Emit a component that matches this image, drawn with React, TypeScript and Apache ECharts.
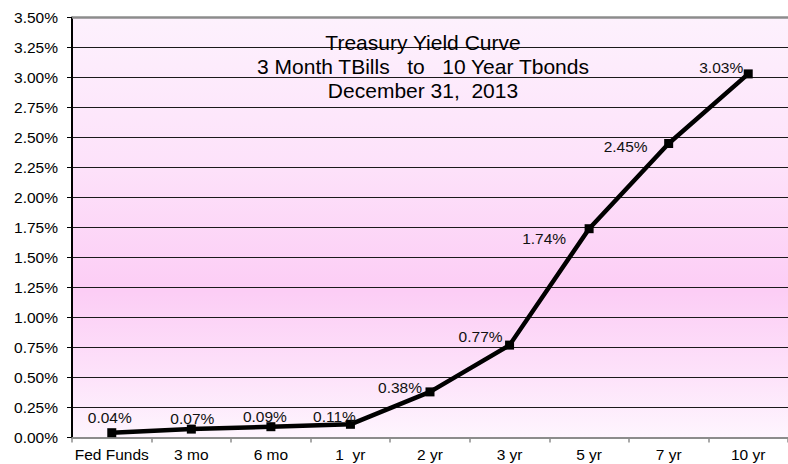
import React, { useEffect, useRef } from "react";
import * as echarts from "echarts";

const categories = ["Fed Funds", "3 mo", "6 mo", "1  yr", "2 yr", "3 yr", "5 yr", "7 yr", "10 yr"];
const yields = [0.04, 0.07, 0.09, 0.11, 0.38, 0.77, 1.74, 2.45, 3.03];
const labelOffsets: [number, number][] = [
  [-2, -15], [1, -11], [-6, -10], [-16, -8], [-30, -4], [-29, -9], [-45, 10], [-43, 3], [-27, -6],
];
const titleLines = ["Treasury Yield Curve", "3 Month TBills   to   10 Year Tbonds", "December 31,  2013"];
const yMin = 0;
const yMax = 3.5;
const yStep = 0.25;

const FONT = 'Arial, "Liberation Sans", Helvetica, sans-serif';

export default function App() {
  const ref = useRef<HTMLDivElement>(null);
  useEffect(() => {
    if (!ref.current) return;
    const chart = echarts.init(ref.current, undefined, { renderer: "svg" });
    chart.setOption({
      animation: false,
      backgroundColor: "#ffffff",
      title: {
        text: titleLines.join("\n"),
        left: 418,
        top: 25,
        textAlign: "center",
        textStyle: {
          fontFamily: FONT,
          fontSize: 21,
          fontWeight: "normal",
          color: "#000",
          lineHeight: 24,
        },
      },
      grid: {
        left: 72,
        top: 17.5,
        width: 726,
        height: 420,
        show: true,
        borderWidth: 0,
        backgroundColor: {
          type: "linear",
          x: 0,
          y: 0,
          x2: 0,
          y2: 1,
          colorStops: [
            { offset: 0, color: "#fdf1fd" },
            { offset: 0.35, color: "#fde2fa" },
            { offset: 0.65, color: "#fccdf5" },
            { offset: 0.85, color: "#fde2fa" },
            { offset: 1, color: "#fef5fe" },
          ],
        },
      },
      xAxis: {
        type: "category",
        data: categories,
        boundaryGap: true,
        axisLine: { lineStyle: { color: "#8c8c8c", width: 2 } },
        axisTick: { show: true, interval: 0, length: 5, lineStyle: { color: "#8c8c8c", width: 1.5 } },
        axisLabel: { interval: 0, hideOverlap: false, fontFamily: FONT, fontSize: 15.5, color: "#000", margin: 9 },
        splitLine: { show: false },
      },
      yAxis: {
        type: "value",
        min: yMin,
        max: yMax,
        interval: yStep,
        axisLine: { show: true, lineStyle: { color: "#000", width: 2 } },
        axisTick: { show: true, length: 5, lineStyle: { color: "#000" } },
        axisLabel: {
          fontFamily: FONT,
          fontSize: 15.5,
          color: "#000",
          margin: 14,
          formatter: (v: number) => v.toFixed(2) + "%",
        },
        splitLine: { show: true, lineStyle: { color: "#1a1a1a", width: 1 } },
      },
      series: [
        {
          type: "line",
          data: yields.map((v, i) => ({
            value: v,
            label: { offset: labelOffsets[i] },
          })),
          symbol: "rect",
          symbolSize: 9,
          itemStyle: { color: "#000" },
          lineStyle: { color: "#000", width: 4.5 },
          label: {
            show: true,
            position: "inside",
            align: "center",
            verticalAlign: "middle",
            fontFamily: FONT,
            fontSize: 15.5,
            color: "#111",
            formatter: (p: any) => p.value.toFixed(2) + "%",
          },
          markLine: {
            silent: true,
            symbol: "none",
            label: { show: false },
            lineStyle: { color: "#8c8c8c", width: 2.5, type: "solid" },
            data: [{ yAxis: yMax }],
          },
        },
      ],
    });
    return () => chart.dispose();
  }, []);
  return (
    <div
      ref={ref}
      style={{ position: "fixed", left: 0, top: 0, width: 788, height: 464 }}
    />
  );
}
